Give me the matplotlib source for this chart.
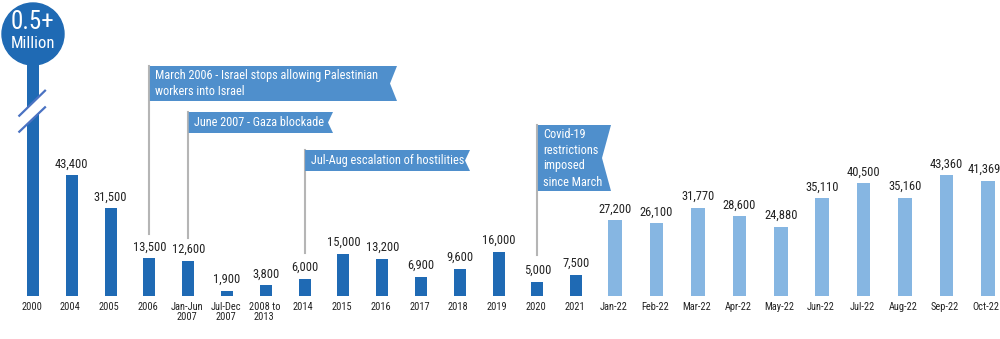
import matplotlib
matplotlib.use("Agg")
import matplotlib.pyplot as plt
from matplotlib import font_manager
from matplotlib.patches import Polygon, Circle
from matplotlib.lines import Line2D
from matplotlib.transforms import Affine2D, ScaledTranslation

# ---------------- data ----------------
categories = ["2000", "2004", "2005", "2006", "Jan-Jun\n2007", "Jul-Dec\n2007",
              "2008 to\n2013", "2014", "2015", "2016", "2017", "2018", "2019",
              "2020", "2021", "Jan-22", "Feb-22", "Mar-22", "Apr-22", "May-22",
              "Jun-22", "Jul-22", "Aug-22", "Sep-22", "Oct-22"]
values = [500000, 43400, 31500, 13500, 12600, 1900, 3800, 6000, 15000, 13200,
          6900, 9600, 16000, 5000, 7500, 27200, 26100, 31770, 28600, 24880,
          35110, 40500, 35160, 43360, 41369]
is_monthly_2022 = [False] * 15 + [True] * 10
headline = ["0.5+", "Million"]
event_texts = ["March 2006 - Israel stops allowing Palestinian\nworkers into Israel",
               "June 2007 - Gaza blockade",
               "Jul-Aug escalation of hostilities",
               "Covid-19\nrestrictions\nimposed\nsince March"]
event_categories = ["2006", "Jan-Jun\n2007", "2014", "2020"]

# ---------------- style ----------------
names = {f.name for f in font_manager.fontManager.ttflist}
def pick(*cands):
    for c in cands:
        if c in names:
            return c
    return "DejaVu Sans"
COND = pick("Roboto Condensed", "Liberation Sans Narrow", "Roboto", "DejaVu Sans")

DARK = "#1f6ab4"
LIGHT = "#86b6e2"
FLAG = "#4f8fcc"
POLE = "#b5b5b5"
TXT = "#222222"

W, H = 1000, 339
BASE = 296           # baseline pixel row
PXU = 0.00278        # pixels per unit
X0, DX = 33, 38.8    # pixel x of first bar, spacing of yearly bars
MONTH_STEP = 41.4 / 38.8   # 2022 monthly bars are spaced a bit wider

fig = plt.figure(figsize=(W / 100, H / 100), dpi=100)
PIX = Affine2D().scale(1 / W, -1 / H).translate(0, 1) + fig.transFigure

ax = fig.add_axes([0, (H - BASE) / H, 1, BASE / H])
ax.set_xlim(-X0 / DX, (W - X0) / DX)
ax.set_ylim(0, BASE / PXU)
for s in ax.spines.values():
    s.set_visible(False)
ax.set_yticks([])

n = len(values)
xs = []
k_month = 0
for i, m in enumerate(is_monthly_2022):
    if not m:
        xs.append(float(i))
    else:
        xs.append(14 + 1.005 + k_month * MONTH_STEP)
        k_month += 1

cap = (BASE - 34) / PXU
heights = [min(v, cap) for v in values]
colors = [LIGHT if m else DARK for m in is_monthly_2022]
widths = [0.35 if m else 0.31 for m in is_monthly_2022]
ax.bar(xs, heights, width=widths, color=colors, zorder=2)

ax.set_xticks(xs)
ax.set_xticklabels(categories, fontsize=7.5, fontfamily=COND, color=TXT,
                   linespacing=1.0)
ax.tick_params(axis="x", length=0, pad=4.5)
shift = ScaledTranslation(-1.5 / 100, 0, fig.dpi_scale_trans)
for lab in ax.get_xticklabels():
    lab.set_transform(lab.get_transform() + shift)

for j, (x, v) in enumerate(zip(xs, values)):
    if v > cap:
        continue
    dx = -2.5 if j == n - 1 else 0
    ax.annotate(f"{v:,}", (x, v), xytext=(dx, 5.8), textcoords="offset points",
                ha="center", va="baseline", fontsize=9, fontfamily=COND,
                color=TXT, zorder=4)

def px_of(cat):
    i = categories.index(cat)
    return ax.transData.transform((xs[i], 0))[0]

# headline circle on the first bar
cx = px_of(categories[0])
ax.add_patch(Circle((cx, 34), 31, transform=PIX, color=DARK, clip_on=False, zorder=5))
ax.text(cx, 22, headline[0], transform=PIX, ha="center", va="center",
        fontsize=18, fontfamily=COND, color="white", zorder=6)
ax.text(cx, 43, headline[1], transform=PIX, ha="center", va="center",
        fontsize=12, fontfamily=COND, color="white", zorder=6)

# axis break on first bar
brk = [(cx - 13.7, 115.7), (cx + 12, 90.7), (cx + 12, 107.3), (cx - 13.7, 131.7)]
ax.add_patch(Polygon(brk, closed=True, transform=PIX, facecolor="white",
                     edgecolor="none", clip_on=False, zorder=3))
for (a, b) in [(brk[0], brk[1]), (brk[3], brk[2])]:
    ax.add_line(Line2D([a[0], b[0]], [a[1], b[1]], transform=PIX, color="#4a72c2",
                       lw=1.6, clip_on=False, zorder=3.5))

# event flags
flag_layout = [  # top, bottom, right, notch, pole_end
    (66, 101, 397, 7, 234),
    (112, 133, 333, 5, 238),
    (150, 171, 470, 5, 253),
    (125, 191, 611, 9, 255),
]
for text, cat, (top, bot, right, notch, pend) in zip(event_texts, event_categories, flag_layout):
    x0 = px_of(cat)
    ax.add_line(Line2D([x0, x0], [top, pend], transform=PIX, color=POLE, lw=1.5,
                       clip_on=False, zorder=1))
    mid = (top + bot) / 2
    poly = [(x0 + 0.5, top), (right, top), (right - notch, mid), (right, bot), (x0 + 0.5, bot)]
    ax.add_patch(Polygon(poly, closed=True, transform=PIX, facecolor=FLAG,
                         edgecolor="none", clip_on=False, zorder=5))
    ax.text(x0 + 6, mid, text, transform=PIX, ha="left", va="center",
            fontsize=8.8, fontfamily=COND, color="white", linespacing=1.3, zorder=6)

fig.savefig("out.png", dpi=100)
